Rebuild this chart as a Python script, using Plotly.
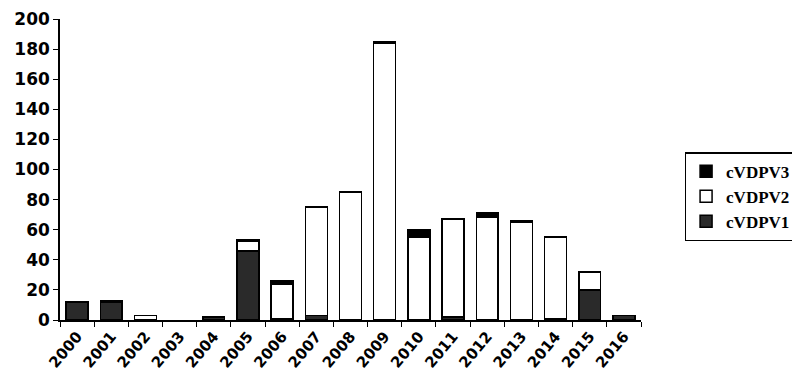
import plotly.graph_objects as go

years = [str(y) for y in range(2000, 2017)]
cvdpv1 = [12, 12, None, None, 2, 46, 1, 3, None, None, None, 2, None, None, 1, 20, 3]
cvdpv2 = [None, None, 3, None, None, 6, 23, 72, 85, 184, 55, 65, 68, 65, 54, 12, None]
cvdpv3 = [None, 1, None, None, None, 1, 2, None, None, 1, 5, None, 3, 1, None, None, None]

line = dict(color="black", width=1.5)

fig = go.Figure()
fig.add_trace(go.Bar(x=years, y=cvdpv1, name="cVDPV1",
                     marker=dict(color="#2a2a2a", line=line)))
fig.add_trace(go.Bar(x=years, y=cvdpv2, name="cVDPV2",
                     marker=dict(color="white", line=line)))
fig.add_trace(go.Bar(x=years, y=cvdpv3, name="cVDPV3",
                     marker=dict(color="black", line=line)))

fig.update_layout(
    width=800, height=375,
    barmode="stack", bargap=0.36,
    plot_bgcolor="white", paper_bgcolor="white",
    margin=dict(l=52, r=162, t=11, b=63),
    legend=dict(x=1.075, y=0.41, xanchor="left", yanchor="middle",
                traceorder="reversed", itemwidth=30,
                bordercolor="black", borderwidth=1.5,
                font=dict(family="Liberation Serif", size=17, color="black", weight="bold")),
)
fig.update_xaxes(
    showline=True, linecolor="black", linewidth=1.5, automargin=False,
    ticks="outside", tickson="boundaries", ticklen=5, tickcolor="black",
    tickangle=-50,
    tickfont=dict(family="DejaVu Sans", size=15, color="black", weight="bold"),
)
fig.update_yaxes(
    range=[0, 200.01], dtick=20, showgrid=False, zeroline=False,
    automargin=False, ticklabeloverflow="allow",
    showline=True, linecolor="black", linewidth=1.5,
    ticks="outside", ticklen=5, tickcolor="black",
    tickfont=dict(family="DejaVu Sans", size=17, color="black", weight="bold"),
)

fig.write_html("out.html")
